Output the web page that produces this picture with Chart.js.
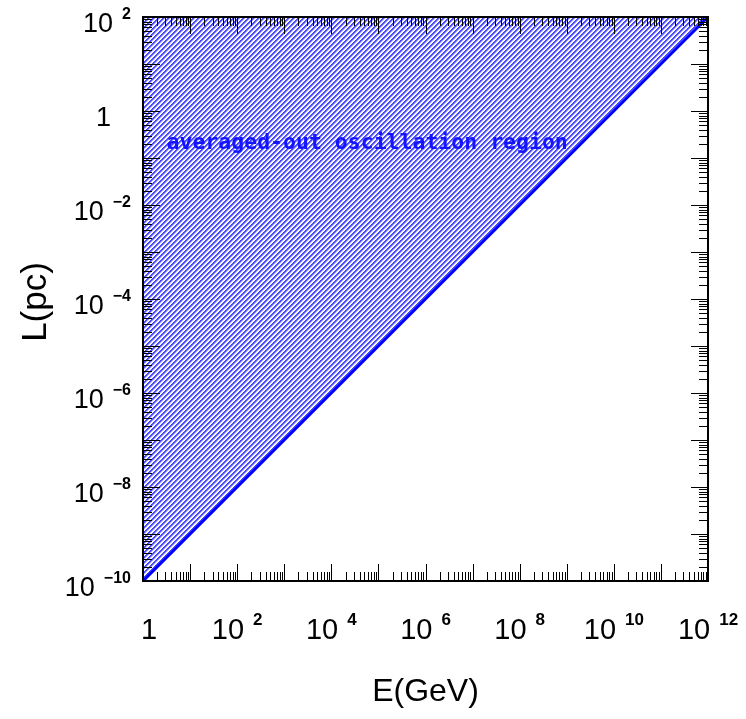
<!DOCTYPE html>
<html>
<head>
<meta charset="utf-8">
<script src="https://cdn.jsdelivr.net/npm/chart.js@4.4.0/dist/chart.umd.min.js"></script>
<style>
  html, body { margin: 0; padding: 0; background: #fff; }
  canvas { display: block; }
</style>
</head>
<body>
<canvas id="chart" width="746" height="719"></canvas>
<script>
// boundary line of the averaged-out region
const energyGeV = [1, 1e12];
const lengthPc = [1e-10, 1e2];

// labelled decades (exponents of 10)
const xLabelExps = [0, 2, 4, 6, 8, 10, 12];
const yLabelExps = [-10, -8, -6, -4, -2, 0, 2];

const regionLabel = 'averaged-out oscillation region';

function makeHatch() {
    const n = 5;
    const c = document.createElement('canvas');
    c.width = n; c.height = n;
    const g = c.getContext('2d');
    const img = g.createImageData(n, n);
    const shades = [[70, 70, 255], [80, 80, 255], [160, 160, 255], [240, 240, 255], [255, 255, 255]];
    for (let j = 0; j < n; j++) {
        for (let i = 0; i < n; i++) {
            const col = shades[(i + j) % n];
            const p = (j * n + i) * 4;
            img.data[p] = col[0]; img.data[p + 1] = col[1]; img.data[p + 2] = col[2]; img.data[p + 3] = 255;
        }
    }
    g.putImageData(img, 0, 0);
    return g.createPattern(c, 'repeat');
}

function drawPowerLabel(ctx, exp, x, y, align, size) {
    // "10" with superscript exponent, or just "1"
    ctx.fillStyle = '#000';
    ctx.textBaseline = 'alphabetic';
    const bigFont = size + 'px "Liberation Sans"';
    const supFont = 'bold ' + Math.round(size * 0.6) + 'px "Liberation Sans"';
    if (exp === 0) {
        ctx.font = bigFont;
        ctx.textAlign = align === 'right' ? 'right' : 'center';
        ctx.fillText('1', align === 'right' ? x - 20 : x + 6, y);
        return;
    }
    const sup = (exp < 0 ? '\u2212' : '') + Math.abs(exp);
    ctx.font = bigFont;
    const wBig = ctx.measureText('10').width;
    ctx.font = supFont;
    const wSup = ctx.measureText(sup).width;
    const gap = 9;
    const total = wBig + gap + wSup;
    let left = align === 'right' ? x - total : x - total / 2;
    ctx.textAlign = 'left';
    ctx.font = bigFont;
    ctx.fillText('10', left, y);
    ctx.font = supFont;
    ctx.fillText(sup, left + wBig + gap, y - size * 0.5);
}

const axesPlugin = {
    id: 'pawAxes',
    afterDraw(chart) {
        const ctx = chart.ctx;
        const a = chart.chartArea;
        const xs = chart.scales.x, ys = chart.scales.y;
        ctx.save();

        // tick marks on all four sides, pointing inward
        ctx.strokeStyle = '#000';
        ctx.lineWidth = 1;
        ctx.beginPath();
        for (let d = 0; d < 12; d++) {
            for (let m = 1; m <= 9; m++) {
                const v = m * Math.pow(10, d);
                const px = Math.round(xs.getPixelForValue(v)) + 0.5;
                const len = m === 1 ? 17 : 9;
                ctx.moveTo(px, a.bottom); ctx.lineTo(px, a.bottom - len);
                ctx.moveTo(px, a.top); ctx.lineTo(px, a.top + len);
            }
        }
        for (let d = -10; d < 2; d++) {
            for (let m = 1; m <= 9; m++) {
                const v = m * Math.pow(10, d);
                const py = Math.round(ys.getPixelForValue(v)) + 0.5;
                const len = m === 1 ? 17 : 9;
                ctx.moveTo(a.left, py); ctx.lineTo(a.left + len, py);
                ctx.moveTo(a.right, py); ctx.lineTo(a.right - len, py);
            }
        }
        ctx.stroke();

        // frame
        ctx.lineWidth = 2;
        ctx.strokeRect(a.left, a.top, a.right - a.left, a.bottom - a.top);

        // tick labels
        xLabelExps.forEach(e => {
            drawPowerLabel(ctx, e, xs.getPixelForValue(Math.pow(10, e)), a.bottom + 58, 'center', 29);
        });
        yLabelExps.forEach(e => {
            drawPowerLabel(ctx, e, 131, ys.getPixelForValue(Math.pow(10, e)) + 15, 'right', 27);
        });

        // axis titles
        ctx.fillStyle = '#000';
        ctx.textAlign = 'center';
        ctx.textBaseline = 'middle';
        ctx.font = '32px "Liberation Sans"';
        ctx.fillText('E(GeV)', (a.left + a.right) / 2, 692);
        ctx.save();
        ctx.translate(36, 302);
        ctx.rotate(-Math.PI / 2);
        ctx.font = '35px "Liberation Sans"';
        ctx.fillText('L(pc)', 0, 0);
        ctx.restore();

        // region annotation
        ctx.fillStyle = '#1414ff';
        ctx.font = 'bold 21.5px "DejaVu Sans Mono"';
        ctx.textAlign = 'left';
        ctx.textBaseline = 'alphabetic';
        ctx.fillText(regionLabel, xs.getPixelForValue(Math.pow(10, 0.5)), ys.getPixelForValue(Math.pow(10, -0.8)));

        ctx.restore();
    }
};

const ctx = document.getElementById('chart').getContext('2d');
new Chart(ctx, {
    type: 'scatter',
    data: {
        datasets: [{
            data: energyGeV.map((e, i) => ({ x: e, y: lengthPc[i] })),
            showLine: true,
            fill: 'end',
            backgroundColor: makeHatch(),
            borderColor: '#0000ff',
            borderWidth: 3,
            pointRadius: 0
        }]
    },
    options: {
        responsive: false,
        animation: false,
        layout: { padding: { left: 143, right: 38, top: 17, bottom: 138 } },
        plugins: { legend: { display: false }, tooltip: { enabled: false } },
        scales: {
            x: { type: 'logarithmic', min: 1, max: 1e12, display: false },
            y: { type: 'logarithmic', min: 1e-10, max: 1e2, display: false }
        }
    },
    plugins: [axesPlugin]
});
</script>
</body>
</html>
